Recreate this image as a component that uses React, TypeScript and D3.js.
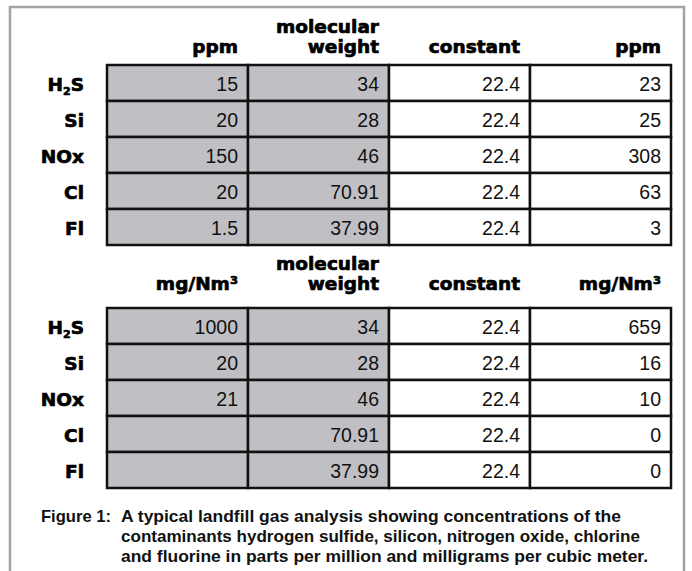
import React from 'react';
import * as d3 from 'd3';

// species rows (label parts: main text + optional subscript)
const species = ['H2S', 'Si', 'NOx', 'Cl', 'Fl'];

// table 1: ppm -> mg/Nm3 conversion
const ppmIn = ['15', '20', '150', '20', '1.5'];
const molWeight = ['34', '28', '46', '70.91', '37.99'];
const constants = ['22.4', '22.4', '22.4', '22.4', '22.4'];
const ppmOut = ['23', '25', '308', '63', '3'];

// table 2: mg/Nm3 -> ppm conversion
const mgIn = ['1000', '20', '21', '', ''];
const mgOut = ['659', '16', '10', '0', '0'];

const headers1 = [['ppm'], ['molecular', 'weight'], ['constant'], ['ppm']];
const headers2 = [['mg/Nm³'], ['molecular', 'weight'], ['constant'], ['mg/Nm³']];

const captionLabel = 'Figure 1:';
const captionLines = [
  'A typical landfill gas analysis showing concentrations of the',
  'contaminants hydrogen sulfide, silicon, nitrogen oxide, chlorine',
  'and fluorine in parts per million and milligrams per cubic meter.',
];

const W = 692;
const H = 571;
const GRAY = '#c0c0c4';
const HEAD_FONT = '"DejaVu Sans", sans-serif';
const VAL_FONT = '"Liberation Sans", Arial, sans-serif';
// heavy headings: bold plus a thin outline to get closer to a black weight
const heavy = {
  fontFamily: HEAD_FONT,
  fontWeight: 700,
  fontSize: 18.5,
  fill: '#000',
  stroke: '#000',
  strokeWidth: 0.7,
};

const x = d3.scaleBand<number>().domain([0, 1, 2, 3]).range([107, 671]);
const rowBand = (top: number) =>
  d3.scaleBand<number>().domain(d3.range(species.length)).range([top, top + 180]);

function Label({ name, xr, y }: { name: string; xr: number; y: number }) {
  const m = name.match(/^([A-Za-z]+)(\d)([A-Za-z]+)$/);
  if (!m) {
    return <text x={xr} y={y} textAnchor="end" style={heavy}>{name}</text>;
  }
  return (
    <text x={xr} y={y} textAnchor="end" style={heavy}>
      {m[1]}
      <tspan dy={4} fontSize={11}>{m[2]}</tspan>
      <tspan dy={-4}>{m[3]}</tspan>
    </text>
  );
}

function Table({ top, headGap, headers, cols }: {
  top: number; headGap: number; headers: string[][]; cols: string[][];
}) {
  const y = rowBand(top);
  const pad = 10;
  return (
    <g>
      {headers.map((h, ci) => (
        <text
          key={'h' + ci}
          x={(x(ci) as number) + x.bandwidth() - pad}
          y={top - headGap}
          textAnchor="end"
          style={heavy}
        >
          {h.map((line, li) => (
            <tspan
              key={li}
              x={(x(ci) as number) + x.bandwidth() - pad}
              dy={li === 0 ? -(h.length - 1) * 20 : 20}
            >
              {line}
            </tspan>
          ))}
        </text>
      ))}
      {species.map((s, ri) => (
        <g key={s}>
          <Label name={s} xr={84} y={(y(ri) as number) + 26} />
          {cols.map((col, ci) => (
            <g key={ci}>
              <rect
                x={x(ci)}
                y={y(ri)}
                width={x.bandwidth()}
                height={y.bandwidth()}
                fill={ci < 2 ? GRAY : '#fff'}
                stroke="#111"
                strokeWidth={2.5}
              />
              <text
                x={(x(ci) as number) + x.bandwidth() - pad}
                y={(y(ri) as number) + 26}
                textAnchor="end"
                style={{ fontFamily: VAL_FONT, fontSize: 19.5, fill: '#111' }}
              >
                {col[ri]}
              </text>
            </g>
          ))}
        </g>
      ))}
    </g>
  );
}

export default function App() {
  const capLen = [500, 519, 527];
  return (
    <svg
      width={W}
      height={H}
      style={{ position: 'absolute', left: 0, top: 0, background: '#fff' }}
    >
      <path d={`M10,${H} V7 H684 V${H}`} fill="none" stroke="#a3a3a3" strokeWidth={2.5} />
      <Table top={65} headGap={12} headers={headers1} cols={[ppmIn, molWeight, constants, ppmOut]} />
      <Table top={308} headGap={18} headers={headers2} cols={[mgIn, molWeight, constants, mgOut]} />
      <g style={{ fontFamily: VAL_FONT, fontWeight: 700, fontSize: 16.5, fill: '#111' }}>
        <text x={41} y={522} textLength={70} lengthAdjust="spacingAndGlyphs">
          {captionLabel}
        </text>
        {captionLines.map((line, i) => (
          <text
            key={i}
            x={121}
            y={522 + i * 20}
            textLength={capLen[i]}
            lengthAdjust="spacingAndGlyphs"
          >
            {line}
          </text>
        ))}
      </g>
    </svg>
  );
}
